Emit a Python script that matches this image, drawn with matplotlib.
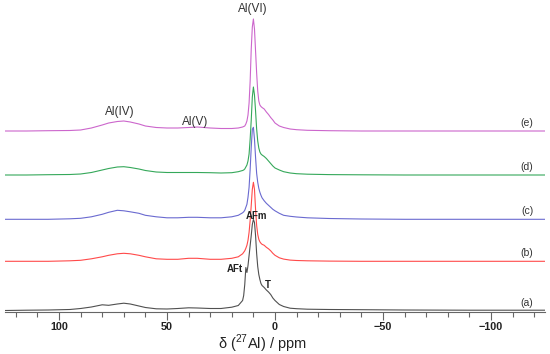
import matplotlib
matplotlib.use("Agg")
import matplotlib.pyplot as plt

plt.rcParams["font.family"] = ["Liberation Sans", "DejaVu Sans"]
plt.rcParams["mathtext.fontset"] = "custom"
plt.rcParams["mathtext.rm"] = "Liberation Sans"

# chemical shift grid (ppm), shared by all five spectra
ppm = [125, 115, 105, 95, 90, 85, 80, 77, 73, 70, 67, 63, 60, 55, 50, 45, 40, 36, 30, 25, 20, 17,
       15, 14.5, 14, 13.5, 13, 12.5, 12, 11.5, 11, 10.5, 10, 9.5, 9, 8.5, 8, 7.5, 7, 6.5, 6,
       5, 4, 3, 2, 1, 0, -2, -4, -7, -10, -15, -25, -40, -60, -90, -125]

# intensities (arbitrary units)
spec_a = [0, 0.3, 0.5, 1, 2, 3.5, 5.7, 5.2, 6.5, 7.3, 6.5, 4.5, 3, 1.7, 1.5, 2, 2.7, 2.5, 2, 2, 3.3, 5,
          10, 15, 26, 43, 38, 45, 55, 65, 75, 86, 91, 88, 75, 57, 44, 36, 31, 27, 25,
          23, 20.5, 18.5, 16, 12.5, 10, 6, 4, 2.3, 1.8, 1.3, 1, 0.8, 0.5, 0.3, 0.3]
spec_b = [0, 0, 0, 0.5, 1, 2.5, 4.5, 6, 7.5, 8, 7.5, 6, 4.5, 2.5, 2, 2, 3, 3, 2, 2, 3, 4.5,
          7.5, 9, 10.5, 13, 16, 21, 29, 41, 56, 72, 79, 72, 52, 36, 27, 22, 19.5, 18, 17,
          16, 14, 12.5, 10.5, 8, 6, 3.5, 2.2, 1.2, 0.8, 0.5, 0.2, 0, 0, 0, 0]
spec_c = [0, 0, 0, 0.5, 1, 2.5, 5, 7, 9, 8.5, 7.5, 6, 4, 2.5, 1.5, 1.5, 2, 2, 1.5, 1.5, 2.5, 4,
          6.5, 7.5, 9, 12, 15, 22, 32, 50, 72, 90, 92, 80, 62, 46, 37, 31, 27, 24, 21.5,
          18.5, 16, 14, 12, 10, 8.5, 6, 4, 3, 2.3, 1.5, 0.8, 0.3, 0, 0, 0]
spec_d = [0, 0, 0.3, 0.5, 1, 2.5, 5, 6.5, 8, 8.3, 7.5, 6, 4.5, 3, 2.5, 2.5, 2.5, 2.5, 2.3, 2, 2.3, 3.3,
          4.5, 5, 6, 8, 10, 14, 21, 36, 55, 78, 88, 80, 64, 46, 34, 27, 23, 21, 20,
          18.5, 16.5, 14, 11.5, 9, 7, 5, 3.3, 2, 1.3, 0.8, 0.4, 0.2, 0, 0, 0]
spec_e = [0, 0, 0.3, 0.5, 1, 3, 6, 8, 9.5, 10, 9, 7, 5, 3.5, 3, 3, 3.5, 4, 3, 2.5, 2.5, 3,
          4, 4.5, 5, 7, 10, 16, 28, 50, 82, 104, 112, 102, 80, 58, 40, 30, 26, 24.5, 23.5,
          22, 19, 16.5, 13.5, 11, 8, 5, 3.5, 2, 1.3, 0.7, 0.3, 0, 0, 0, 0]

spectra = [spec_a, spec_b, spec_c, spec_d, spec_e]
offsets = [1.5, 50.7, 92.7, 137, 181]
names = ["(a)", "(b)", "(c)", "(d)", "(e)"]
colors = ["#505050", "#ff4a4a", "#6a6ad0", "#35a85a", "#cc66cc"]

fig = plt.figure(figsize=(5.5, 3.54), dpi=100)
ax = fig.add_axes([5 / 550, 1 - 312 / 354, 540 / 550, 312 / 354])

for spec, off, name, col in zip(spectra, offsets, names, colors):
    ax.plot(ppm, [v + off for v in spec], color=col, lw=0.8)
    ax.text(-116.7, off + 8, name, fontsize=7.5, color="#333333", ha="center", va="center")

ax.text(10.2, 303, "Al(VI)", fontsize=8.5, color="#333333", ha="center", va="center")
ax.text(71.8, 200, "Al(IV)", fontsize=8.5, color="#333333", ha="center", va="center")
ax.text(37, 190, "Al(V)", fontsize=8.5, color="#333333", ha="center", va="center")
ax.text(8.5, 96.3, "AFm", fontsize=7, fontweight="bold", color="#222222", ha="center", va="center")
ax.text(18.5, 43, "AFt", fontsize=7, fontweight="bold", color="#222222", ha="center", va="center")
ax.text(3.4, 27, "T", fontsize=7, fontweight="bold", color="#222222", ha="center", va="center")

ax.set_xlim(125, -125)
ax.set_ylim(0, 312)
for s in ["left", "right", "top"]:
    ax.spines[s].set_visible(False)
ax.spines["bottom"].set_color("#666666")
ax.spines["bottom"].set_linewidth(0.8)
ax.set_yticks([])
ax.set_xticks([100, 50, 0, -50, -100])
ax.set_xticklabels(["100", "50", "0", "\u221250", "\u2212100"], fontweight="bold")
ax.set_xticks(range(-120, 121, 10), minor=True)
ax.tick_params(axis="x", which="major", length=5.5, width=0.8, color="#666666",
               labelsize=7.8, pad=1.5, labelcolor="#222222")
ax.tick_params(axis="x", which="minor", length=3.5, width=0.8, color="#666666")
fig.text(262 / 550, 1 - 344 / 354, r"δ ($^{27}$Al) / ppm", fontsize=10.5, color="#222222",
         ha="center", va="center")

fig.savefig("out.png", dpi=100)
